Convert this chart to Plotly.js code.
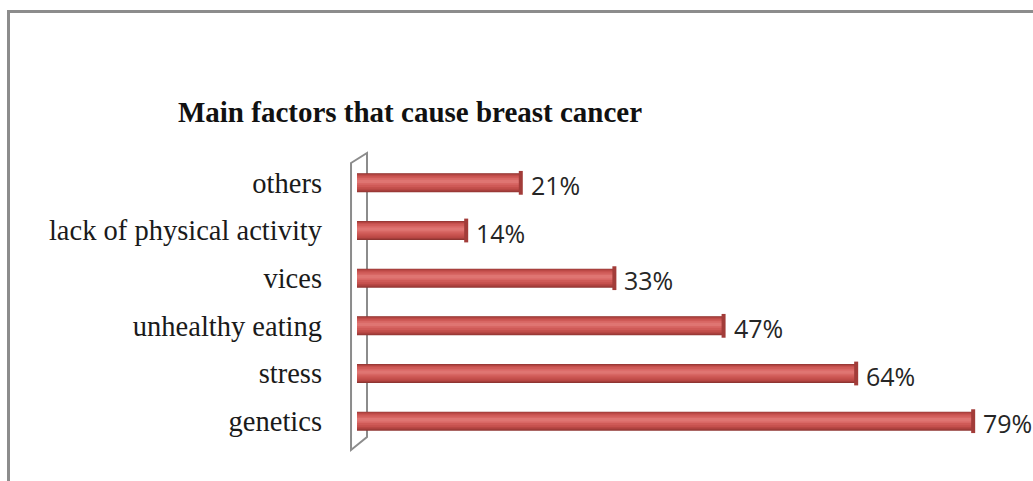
<!DOCTYPE html>
<html>
<head>
<meta charset="utf-8">
<script src="https://cdn.plot.ly/plotly-3.0.1.min.js"></script>
<style>
html,body{margin:0;padding:0;background:#fff;overflow:hidden;}
#wrap{position:relative;width:1033px;height:481px;}
#frame{position:absolute;left:7px;top:10px;width:1100px;height:600px;border-top:3px solid #8c8c8c;border-left:3px solid #8c8c8c;pointer-events:none;}
#chart{position:absolute;left:0;top:0;width:1033px;height:481px;}
</style>
</head>
<body>
<div id="wrap">
<div id="chart"></div>
<div id="frame"></div>
</div>
<script>
const categories = ["genetics", "stress", "unhealthy eating", "vices", "lack of physical activity", "others"];
const values = [79, 64, 47, 33, 14, 21];
const valueLabels = ["79%", "64%", "47%", "33%", "14%", "21%"];
const chartTitle = "Main factors that cause breast cancer";

// cylinder-like shading: stacked overlay bars of decreasing width
const layers = [
  {w: 0.40, off: -0.20, c: "#8f3532"},
  {w: 0.37, off: -0.18, c: "#a53e3b"},
  {w: 0.33, off: -0.155, c: "#b84744"},
  {w: 0.28, off: -0.125, c: "#c5504d"},
  {w: 0.22, off: -0.085, c: "#cf5a57"},
  {w: 0.14, off: -0.04, c: "#d86764"},
  {w: 0.07, off: -0.005, c: "#df7572"}
];
const traces = layers.map(l => ({
  type: "bar",
  orientation: "h",
  y: categories,
  x: values,
  width: l.w,
  offset: l.off,
  marker: {color: l.c, line: {width: 0}},
  hoverinfo: "skip",
  showlegend: false
}));
// rounded end caps
traces.push({
  type: "scatter",
  mode: "markers",
  y: categories,
  x: values,
  marker: {symbol: "line-ns", size: 17, line: {width: 4, color: "#a23c39"}},
  hoverinfo: "skip",
  showlegend: false,
  cliponaxis: false
});

const annotations = categories.map((c, i) => ({
  x: values[i], y: c, xref: "x", yref: "y",
  text: valueLabels[i], showarrow: false,
  xanchor: "left", xshift: 8, yshift: -2,
  font: {family: "Open Sans, Liberation Sans, sans-serif", size: 25, color: "#262626"}
}));

const layout = {
  width: 1033, height: 481,
  margin: {l: 357, r: 5, t: 159, b: 36},
  paper_bgcolor: "rgba(0,0,0,0)", plot_bgcolor: "rgba(0,0,0,0)",
  barmode: "overlay",
  title: {
    text: "<b>" + chartTitle + "</b>",
    xref: "container", x: 410/1033, xanchor: "center",
    yref: "container", y: 1 - 112/481, yanchor: "middle",
    font: {family: "Liberation Serif, Times New Roman, serif", size: 29, color: "#111"}
  },
  xaxis: {range: [0, 86.03], visible: false, fixedrange: true},
  yaxis: {
    type: "category", categoryorder: "array", categoryarray: categories,
    range: [-0.5, 5.5], showgrid: false, zeroline: false, showline: false,
    ticks: "", ticklabelstandoff: 34,
    tickfont: {family: "Liberation Serif, Times New Roman, serif", size: 28.5, color: "#1a1a1a"}
  },
  shapes: [
    {type: "path", xref: "paper", yref: "paper",
     path: "M -0.0089 0.986 L 0.0149 1.021 L 0.0149 0.028 L -0.0089 -0.0175 Z",
     line: {color: "#8c8c8c", width: 2}, fillcolor: "rgba(255,255,255,0)", layer: "below"}
  ],
  annotations: annotations,
  font: {family: "Liberation Serif, serif"}
};

Plotly.newPlot("chart", traces, layout, {staticPlot: true, displayModeBar: false});
</script>
</body>
</html>
